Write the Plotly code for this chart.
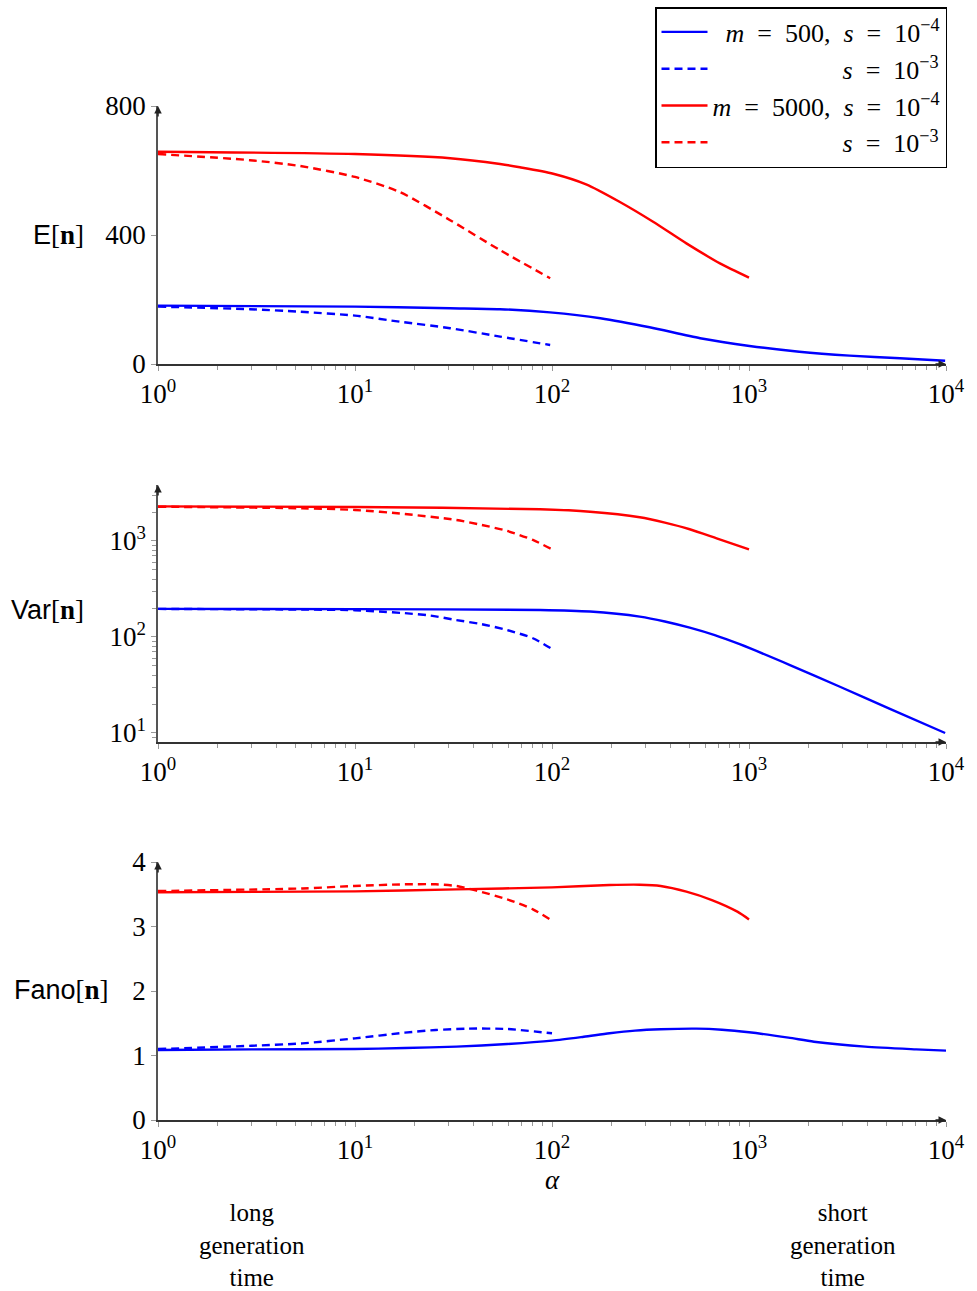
import plotly.graph_objects as go

# ---------------- data ----------------
# Mean E[n]
aE_b1 = [1, 10, 30.4, 54.4, 97.7, 176, 313, 565, 1006, 1800, 3240, 5840, 9900]
E_b1 = [181, 178, 173, 170, 160, 142, 114, 80, 56, 38, 26, 18, 10]
aE_b3 = [1, 2.93, 5.26, 10, 16.9, 30.4, 54.5, 97.9]
E_b3 = [178, 170, 162, 150, 131, 111, 85, 59]
aE_r1 = [1, 10, 30.4, 54.5, 68.7, 101.4, 149, 220, 326, 481, 712, 1000]
E_r1 = [658, 651, 638, 620, 610, 590, 557, 503, 441, 374, 312, 268]
aE_r3 = [1, 2.93, 5.26, 10, 16.9, 30.4, 54.5, 97.9]
E_r3 = [651, 632, 614, 580, 533, 446, 353, 266]

# Variance Var[n]
aV_b1 = [1, 10, 87, 156, 279, 374, 500, 670, 897, 1614, 2895, 5192, 9900]
V_b1 = [196, 195, 191, 184, 163, 145, 125, 104.5, 84, 51, 30.3, 17.8, 10]
aV_b3 = [1, 5.4, 10, 13.3, 17.9, 24.2, 32.7, 44, 59.3, 80, 100]
V_b3 = [196, 193, 190, 184, 177, 167, 150, 136, 118, 97, 75]
aV_r1 = [1, 10, 87, 156, 279, 374, 500, 685, 1000]
V_r1 = [2290, 2262, 2138, 2018, 1766, 1552, 1325, 1067, 819]
aV_r3 = [1, 5.4, 10, 17.9, 32.7, 44, 59.3, 80, 100]
V_r3 = [2275, 2188, 2104, 1910, 1655, 1468, 1271, 1024, 819]

# Fano factor
aF_b1 = [1, 2.99, 10, 17.9, 32.7, 59.3, 100, 145, 196, 264, 356, 540, 729, 1000, 1585, 2137, 3884, 7050, 10000]
F_b1 = [1.085, 1.095, 1.10, 1.116, 1.137, 1.178, 1.23, 1.29, 1.344, 1.385, 1.406, 1.416, 1.40, 1.36, 1.277, 1.214, 1.137, 1.095, 1.075]
aF_b3 = [1, 2.99, 5.4, 10, 17.9, 25.7, 36.7, 59.3, 100]
F_b3 = [1.10, 1.151, 1.188, 1.266, 1.354, 1.395, 1.416, 1.411, 1.344]
aF_r1 = [1, 10, 32.7, 100, 196, 279, 356, 481, 648, 873, 1000]
F_r1 = [3.53, 3.545, 3.576, 3.607, 3.643, 3.648, 3.628, 3.54, 3.41, 3.23, 3.11]
aF_r3 = [1, 5.4, 9.9, 17.9, 25.7, 32.7, 41.4, 59.3, 80, 100]
F_r3 = [3.55, 3.59, 3.628, 3.654, 3.654, 3.628, 3.556, 3.42, 3.266, 3.09]

NB = "&nbsp;"
EQ = NB + " = " + NB
legend_names = [
    NB * 2 + "<i>m</i>" + EQ + "500," + NB + " <i>s</i>" + EQ + "10<sup>−4</sup>",
    NB * 20 + "<i>s</i>" + EQ + "10<sup>−3</sup>",
    "<i>m</i>" + EQ + "5000," + NB + " <i>s</i>" + EQ + "10<sup>−4</sup>",
    NB * 20 + "<i>s</i>" + EQ + "10<sup>−3</sup>",
]
x_tickvals = [1, 10, 100, 1000, 10000]
x_ticktext = ["10<sup>0</sup>", "10<sup>1</sup>", "10<sup>2</sup>", "10<sup>3</sup>", "10<sup>4</sup>"]

# ---------------- styling ----------------
W, H = 977, 1291
BLUE = "#0000ff"
RED = "#ff0000"
LW = 2.4
DASH = "8px,5px"
SERIF = "Liberation Serif"
AX = "#555555"
TFS = 27

def py(p):
    return 1 - p / H

def px(p):
    return p / W

fig = go.Figure()

panels = [
    ("x", "y", [(aE_b1, E_b1), (aE_b3, E_b3), (aE_r1, E_r1), (aE_r3, E_r3)]),
    ("x2", "y2", [(aV_b1, V_b1), (aV_b3, V_b3), (aV_r1, V_r1), (aV_r3, V_r3)]),
    ("x3", "y3", [(aF_b1, F_b1), (aF_b3, F_b3), (aF_r1, F_r1), (aF_r3, F_r3)]),
]
styles = [(BLUE, "solid"), (BLUE, DASH), (RED, "solid"), (RED, DASH)]

for pi, (xa, ya, series) in enumerate(panels):
    for si, ((xs, ys), (col, dash)) in enumerate(zip(series, styles)):
        fig.add_trace(go.Scatter(
            x=xs, y=ys, xaxis=xa, yaxis=ya, mode="lines",
            line=dict(color=col, width=LW, dash=dash, shape="spline", smoothing=0.7),
            name=legend_names[si], showlegend=(pi == 0),
        ))

xdom = [px(158), px(946)]
minor_x = [m * 10 ** k for k in range(4) for m in range(2, 10)]
minor_y2 = [m * 10 ** k for k in range(0, 4) for m in range(2, 10) if 8 <= m * 10 ** k <= 3800]

def xaxis_cfg(anchor):
    return dict(
        type="log", range=[0, 4], domain=xdom, anchor=anchor, automargin=False,
        showline=True, linecolor="#333333", linewidth=1.5, showgrid=False, zeroline=False,
        tickvals=x_tickvals, ticktext=x_ticktext, ticks="outside", ticklen=5,
        tickcolor="#999999", tickwidth=1,
        tickfont=dict(family=SERIF, size=TFS, color="black"),
        minor=dict(tickvals=minor_x, ticks="outside", ticklen=4, tickcolor="#999999", tickwidth=1),
    )

def yaxis_cfg(anchor, dom, **kw):
    d = dict(
        domain=dom, anchor=anchor, showline=True, linecolor=AX, linewidth=1.5, automargin=False,
        showgrid=False, zeroline=False, ticks="outside", ticklen=5,
        tickcolor="#999999", tickwidth=1,
        tickfont=dict(family=SERIF, size=TFS, color="black"),
    )
    d.update(kw)
    return d

fig.update_layout(
    width=W, height=H,
    margin=dict(l=0, r=0, t=0, b=0, autoexpand=False),
    paper_bgcolor="white", plot_bgcolor="white",
    xaxis=xaxis_cfg("y"),
    xaxis2=xaxis_cfg("y2"),
    xaxis3=xaxis_cfg("y3"),
    yaxis=yaxis_cfg("x", [py(364), py(106)], range=[0, 800], tickvals=[0, 400, 800]),
    yaxis2=yaxis_cfg("x2", [py(742), py(485)], type="log", range=[0.906, 3.583],
                     tickvals=[10, 100, 1000],
                     ticktext=["10<sup>1</sup>", "10<sup>2</sup>", "10<sup>3</sup>"],
                     minor=dict(tickvals=minor_y2, ticks="outside", ticklen=4,
                                tickcolor="#999999", tickwidth=1)),
    yaxis3=yaxis_cfg("x3", [py(1120), py(862)], range=[0, 4], tickvals=[0, 1, 2, 3, 4]),
    showlegend=True,
    legend=dict(
        x=px(655), y=py(7), xanchor="left", yanchor="top",
        bgcolor="white", bordercolor="black", borderwidth=1.5,
        font=dict(family=SERIF, size=26, color="black"),
        tracegroupgap=0, itemwidth=46,
    ),
)

SANS = "Liberation Sans"
def ylab(word):
    return (f"<span style='font-family:{SANS}'>{word}</span>"
            f"[<b>n</b>]")

annotations = [
    dict(x=px(86), y=py(235), text=ylab("E"), xanchor="right", size=27),
    dict(x=px(86), y=py(610), text=ylab("Var"), xanchor="right", size=27),
    dict(x=px(111), y=py(990), text=ylab("Fano"), xanchor="right", size=27),
    dict(x=px(552), y=py(1180), text="<i>α</i>", xanchor="center", size=27),
    dict(x=px(252), y=py(1245), text="long<br>generation<br>time", xanchor="center", size=25),
    dict(x=px(843), y=py(1245), text="short<br>generation<br>time", xanchor="center", size=25),
]
for a in annotations:
    fs = a.pop("size")
    a.update(xref="paper", yref="paper", yanchor="middle", showarrow=False,
             font=dict(family=SERIF, size=fs, color="black"))
    fig.add_annotation(**a)

# axis arrowheads
for xa, ya, ybase, ytip in [("x", "y", 0, 800), ("x2", "y2", 0.906, 3.583), ("x3", "y3", 0, 4)]:
    fig.add_annotation(x=4, y=ybase, xref=xa, yref=ya, ax=-12, ay=0, axref="pixel", ayref="pixel",
                       showarrow=True, arrowhead=2, arrowsize=1, arrowwidth=1.5,
                       arrowcolor="#222222", text="")
    fig.add_annotation(x=0, y=ytip, xref=xa, yref=ya, ax=0, ay=12, axref="pixel", ayref="pixel",
                       showarrow=True, arrowhead=2, arrowsize=1, arrowwidth=1.5,
                       arrowcolor="#222222", text="")

fig.write_html("out.html")
